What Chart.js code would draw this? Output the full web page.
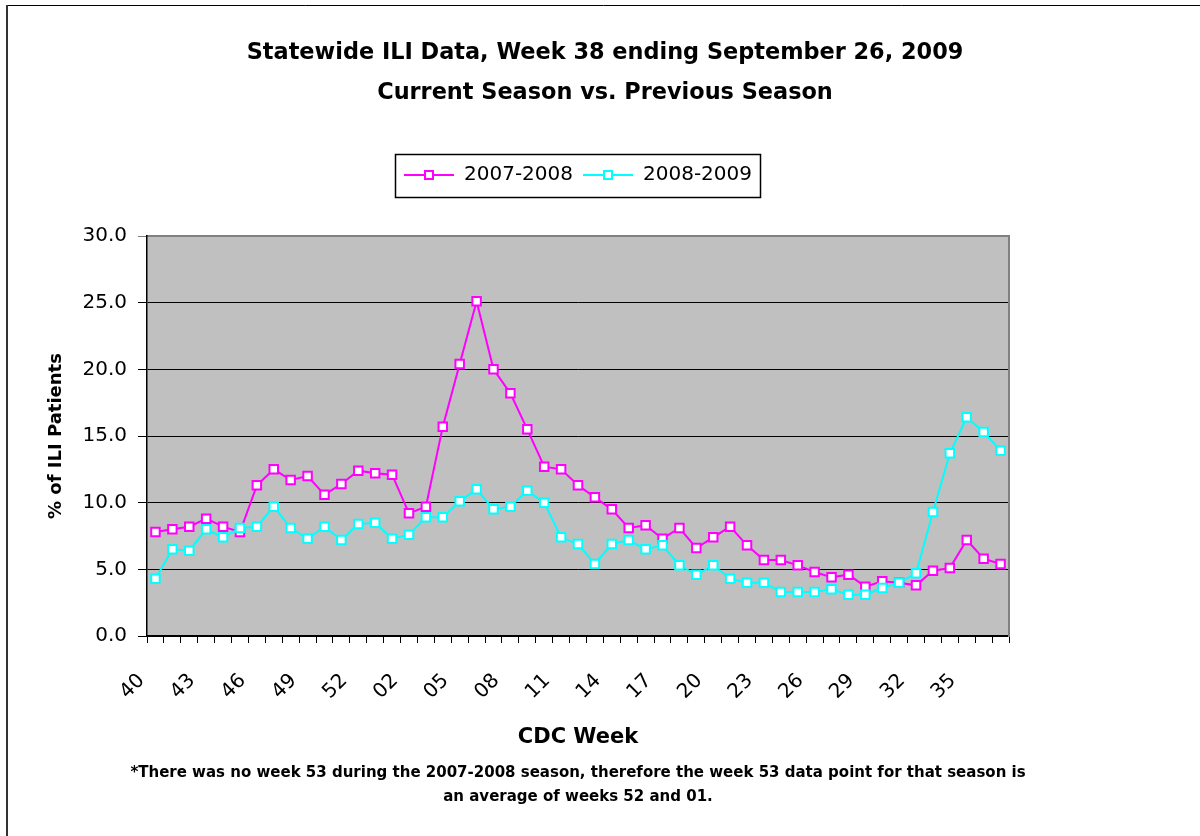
<!DOCTYPE html>
<html><head><meta charset="utf-8">
<script src="https://cdn.jsdelivr.net/npm/chart.js@4/dist/chart.umd.min.js"></script>
<style>html,body{margin:0;padding:0;background:#fff}canvas{display:block}</style>
</head><body>
<canvas id="c" width="1200" height="836"></canvas>
<script>
// ---- data ----
const weeks = ['40','41','42','43','44','45','46','47','48','49','50','51','52','53',
  '01','02','03','04','05','06','07','08','09','10','11','12','13','14','15','16','17','18','19','20',
  '21','22','23','24','25','26','27','28','29','30','31','32','33','34','35','36','37'];
const season0708 = [7.8, 8.0, 8.2, 8.8, 8.2, 7.8, 11.3, 12.5, 11.7, 12.0, 10.6, 11.4, 12.4, 12.2,
  12.1, 9.2, 9.7, 15.7, 20.4, 25.1, 20.0, 18.2, 15.5, 12.7, 12.5, 11.3, 10.4, 9.5, 8.1, 8.3, 7.3, 8.1,
  6.6, 7.4, 8.2, 6.8, 5.7, 5.7, 5.3, 4.8, 4.4, 4.6, 3.7, 4.1, 4.0, 3.8, 4.9, 5.1, 7.2, 5.8, 5.4];
const season0809 = [4.3, 6.5, 6.4, 8.0, 7.4, 8.1, 8.2, 9.7, 8.1, 7.3, 8.2, 7.2, 8.4, 8.5,
  7.3, 7.6, 8.9, 8.9, 10.1, 11.0, 9.5, 9.7, 10.9, 10.0, 7.4, 6.9, 5.4, 6.9, 7.2, 6.5, 6.8, 5.3,
  4.6, 5.3, 4.3, 4.0, 4.0, 3.3, 3.3, 3.3, 3.5, 3.1, 3.1, 3.6, 4.0, 4.7, 9.3, 13.7, 16.4, 15.3, 13.9];
const seriesNames = ['2007-2008', '2008-2009'];
const seriesColors = ['#FF00FF', '#00FFFF'];
const titleLines = ['Statewide ILI Data, Week 38 ending September 26, 2009', 'Current Season vs. Previous Season'];
const footnoteLines = ['*There was no week 53 during the 2007-2008 season, therefore the week 53 data point for that season is',
  'an average of weeks 52 and 01.'];
const yAxisTitle = '% of ILI Patients';
const xAxisTitle = 'CDC Week';
const labelEvery = 3;

// ---- legend icons (line + square marker) ----
function makeIcon(color) {
  const cv = document.createElement('canvas');
  cv.width = 50; cv.height = 12;
  const g = cv.getContext('2d');
  g.strokeStyle = color; g.lineWidth = 2;
  g.beginPath(); g.moveTo(0, 6); g.lineTo(50, 6); g.stroke();
  g.fillStyle = '#fff'; g.fillRect(21, 2, 8, 8);
  g.strokeRect(21, 2, 8, 8);
  return cv;
}
const icons = seriesColors.map(makeIcon);

Chart.defaults.font.family = "'DejaVu Sans', sans-serif";
Chart.defaults.color = '#000';

const framePlugin = {
  id: 'frame',
  afterLayout(chart) {
    // let the centred footnote run wider than the plot area (stays centred on it)
    chart.boxes.forEach(b => {
      if (b.options && b.options.text === footnoteLines) {
        b.left -= 120; b.right += 120; b.width += 240;
      }
    });
  },
  beforeDraw(chart) {
    const {ctx, chartArea: a} = chart;
    ctx.save();
    ctx.fillStyle = '#fff';
    ctx.fillRect(0, 0, chart.width, chart.height);
    ctx.fillStyle = '#C0C0C0';
    ctx.fillRect(a.left, a.top, a.right - a.left, a.bottom - a.top);
    ctx.restore();
  },
  afterDraw(chart) {
    const {ctx} = chart;
    ctx.save();
    // outer chart border
    ctx.strokeStyle = '#000'; ctx.lineWidth = 1;
    ctx.beginPath(); ctx.moveTo(7, 5.5); ctx.lineTo(chart.width, 5.5); ctx.stroke();
    ctx.strokeStyle = '#333'; ctx.lineWidth = 2;
    ctx.beginPath(); ctx.moveTo(7, 5); ctx.lineTo(7, chart.height); ctx.stroke();
    // legend box
    const lg = chart.legend;
    if (lg && lg.legendHitBoxes && lg.legendHitBoxes.length) {
      const hb = lg.legendHitBoxes;
      const l = Math.min(...hb.map(h => h.left)) - 9;
      const r = Math.max(...hb.map(h => h.left + h.width)) + 8;
      const cy = hb[0].top + hb[0].height / 2;
      ctx.strokeStyle = '#000'; ctx.lineWidth = 1.5;
      ctx.strokeRect(Math.round(l) + 0.5, Math.round(cy - 21.5) + 0.5, Math.round(r - l), 43);
    }
    ctx.restore();
  }
};

new Chart(document.getElementById('c'), {
  type: 'line',
  data: {
    labels: weeks,
    datasets: [
      { label: seriesNames[0], data: season0708, borderColor: seriesColors[0], order: 1 },
      { label: seriesNames[1], data: season0809, borderColor: seriesColors[1], order: 0 }
    ]
  },
  options: {
    responsive: false,
    animation: false,
    devicePixelRatio: 1,
    events: [],
    layout: { padding: { left: 10, right: 0, top: 33, bottom: 27 } },
    elements: {
      line: { borderWidth: 2, tension: 0, fill: false },
      point: { pointStyle: 'rect', radius: 6, borderWidth: 2, backgroundColor: '#fff' }
    },
    scales: {
      x: {
        type: 'category',
        offset: true,
        grid: { offset: true, drawOnChartArea: false, drawTicks: true, tickLength: 7, color: '#000', lineWidth: 1 },
        border: { color: '#000', width: 1.5 },
        ticks: {
          autoSkip: false, minRotation: 45, maxRotation: 45, padding: 26, labelOffset: -14,
          font: { size: 20 }, color: '#000',
          callback: (v, i) => (i % labelEvery === 0 ? weeks[i] : '')
        },
        title: { display: true, text: xAxisTitle, font: { size: 21, weight: 'bold' }, padding: { top: 0, bottom: 11 } },
        afterFit: s => { s.height = 125; }
      },
      xTop: {
        type: 'category', position: 'top', display: true,
        grid: { display: false }, ticks: { display: false },
        border: { color: '#808080', width: 2 },
        afterFit: s => { s.height = 41; }
      },
      y: {
        min: 0, max: 30,
        grid: { color: c => (c.tick && c.tick.value === 30 ? '#808080' : '#000'), lineWidth: 1, tickLength: 9 },
        border: { color: '#000', width: 1.5 },
        ticks: { stepSize: 5, padding: 11, font: { size: 20 }, color: '#000', callback: v => Number(v).toFixed(1) },
        title: { display: true, text: yAxisTitle, font: { size: 18, weight: 'bold' }, padding: { top: 36, bottom: 0 } },
        afterFit: s => { s.width = 137; }
      },
      yRight: {
        type: 'linear', position: 'right', display: true, min: 0, max: 30,
        grid: { display: false }, ticks: { display: false },
        border: { color: '#808080', width: 2 },
        afterFit: s => { s.width = 191; }
      }
    },
    plugins: {
      title: {
        display: true, text: titleLines,
        font: { size: 22.4, weight: 'bold', lineHeight: 40 / 22.4 },
        color: '#000', padding: { top: 0, bottom: 42 }
      },
      subtitle: {
        display: true, position: 'bottom', fullSize: false, text: footnoteLines,
        font: { size: 15, weight: 'bold', lineHeight: 1.6 }, color: '#000', padding: 0
      },
      legend: {
        display: true, position: 'top', fullSize: false,
        labels: {
          usePointStyle: true, pointStyleWidth: 50, padding: 10,
          font: { size: 20 }, color: '#000',
          sort: (a, b) => a.datasetIndex - b.datasetIndex,
          generateLabels(chart) {
            const items = Chart.defaults.plugins.legend.labels.generateLabels(chart);
            items.forEach(it => { it.pointStyle = icons[it.datasetIndex]; });
            return items;
          }
        }
      },
      tooltip: { enabled: false }
    }
  },
  plugins: [framePlugin]
});
</script>
</body></html>
